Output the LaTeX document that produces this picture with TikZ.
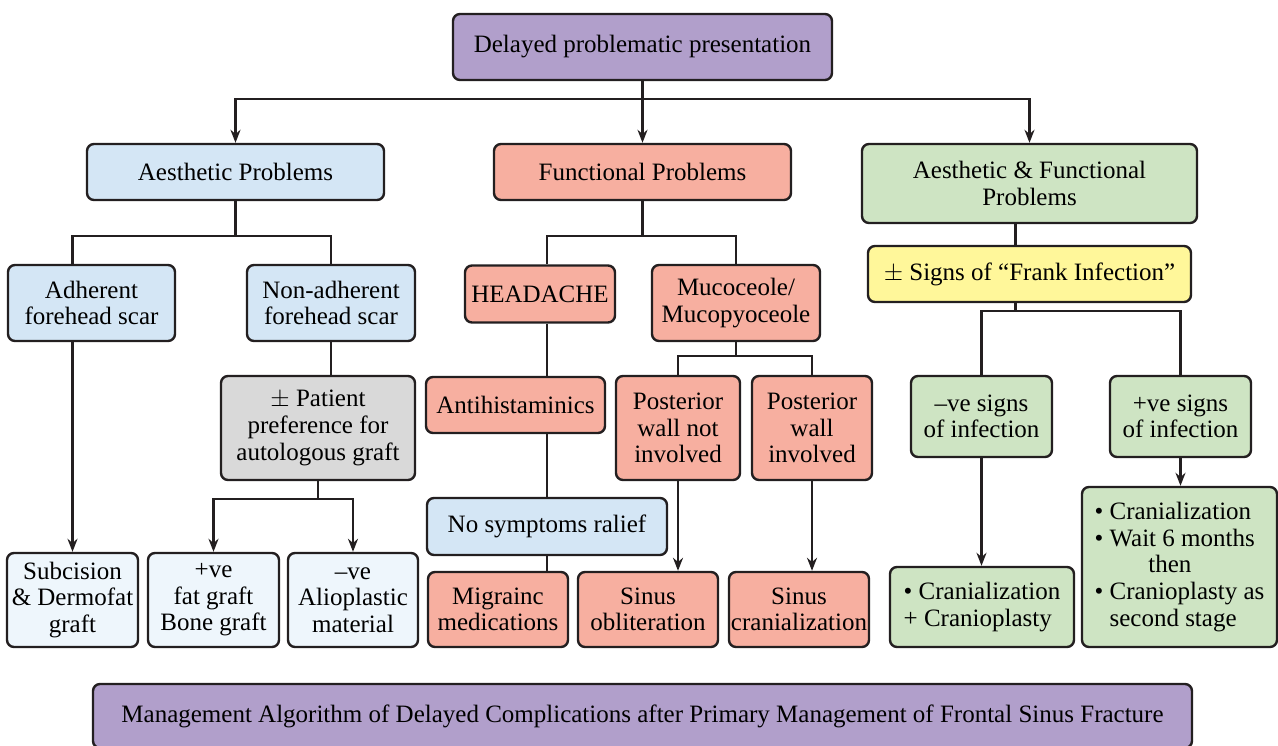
\documentclass[tikz,border=0pt]{standalone}
\usepackage{fontspec}
\setmainfont{Liberation Serif}
\usepackage{tikz}
\usetikzlibrary{arrows.meta}
\definecolor{cpurp}{HTML}{B19FCB}
\definecolor{cblue}{HTML}{D4E6F5}
\definecolor{cpale}{HTML}{EEF6FC}
\definecolor{csalm}{HTML}{F7AFA0}
\definecolor{cgreen}{HTML}{CEE4C3}
\definecolor{cyell}{HTML}{FFF79A}
\definecolor{cgrey}{HTML}{D9D9D9}
\definecolor{cline}{HTML}{231F20}
\tikzset{
  fbox/.style={draw=cline, rounded corners=7pt, align=center, inner sep=1pt,
               line width=2.4pt, font=\fontsize{25}{26.6}\selectfont},
  sz/.style 2 args={minimum width=#1pt, minimum height=#2pt},
  npurp/.style={fbox, fill=cpurp},
  nblue/.style={fbox, fill=cblue},
  npale/.style={fbox, fill=cpale},
  nsalm/.style={fbox, fill=csalm},
  ngreen/.style={fbox, fill=cgreen},
  nyell/.style={fbox, fill=cyell},
  ngrey/.style={fbox, fill=cgrey},
  link/.style={line width=2.2pt, draw=cline},
  flow/.style={link, -{Stealth[length=13pt, width=10pt]}},
}
\begin{document}
\begin{tikzpicture}[x=1pt, y=-1pt]
  \useasboundingbox (0,0) rectangle (1278,746);
  \node[npurp, sz={379}{66}] (top) at (642.5,47) {Delayed problematic presentation};
  \node[nblue, sz={297}{56}] (aes) at (235.5,172) {Aesthetic Problems};
  \node[nsalm, sz={297}{56}] (fun) at (642.5,172) {Functional Problems};
  \node[ngreen, sz={335}{79}] (afp) at (1029.5,183.5) {Aesthetic \& Functional\\Problems};
  \node[nblue, sz={167}{76}] (adh) at (91.5,303) {Adherent\\forehead scar};
  \node[nblue, sz={168}{76}] (nadh) at (331,303) {Non-adherent\\forehead scar};
  \node[ngrey, sz={194}{104}] (pref) at (318,428) {$\pm$ Patient\\preference for\\autologous graft};
  \node[npale, sz={131}{94}] (subc) at (72.5,600) {Subcision\\\& Dermofat\\graft};
  \node[npale, sz={131}{94}] (fatg) at (213.5,600) {+ve\\fat graft\\Bone graft};
  \node[npale, sz={130}{94}] (alio) at (353,600) {--ve\\Alioplastic\\material};
  \node[nsalm, sz={150}{57}] (head) at (540,294) {HEADACHE};
  \node[nsalm, sz={168}{76}] (muco) at (736,303) {Mucoceole/\\Mucopyoceole};
  \node[nsalm, sz={179}{56}] (anti) at (515.5,405) {Antihistaminics};
  \node[nblue, sz={240}{57}] (sym) at (547,526.5) {No symptoms ralief};
  \node[nsalm, sz={140}{75}] (mig) at (498,609.5) {Migrainc\\medications};
  \node[nsalm, sz={124}{104}] (pwn) at (678,428) {Posterior\\wall not\\involved};
  \node[nsalm, sz={120}{104}] (pwi) at (812,428) {Posterior\\wall\\involved};
  \node[nsalm, sz={140}{75}] (obl) at (648,609.5) {Sinus\\obliteration};
  \node[nsalm, sz={140}{75}] (cran) at (799,609.5) {Sinus\\cranialization};
  \node[nyell, sz={323}{56}] (frank) at (1029.5,274) {$\pm$ Signs of ``Frank Infection''};
  \node[ngreen, sz={141}{81}] (nsig) at (981.5,416.5) {--ve signs\\of infection};
  \node[ngreen, sz={141}{81}] (psig) at (1180.5,416.5) {+ve signs\\of infection};
  \node[ngreen, sz={184}{80}, align=left] (ccp) at (982,607) {• Cranialization\\+ Cranioplasty};
  \node[ngreen, sz={195}{160}, align=left] (wait) at (1179.5,567)
    {• Cranialization\\• Wait 6 months\\\hspace*{2.15em}then\\• Cranioplasty as\\\hphantom{•}~second stage};
  \node[npurp, sz={1099}{64}] (title) at (642.5,716)
    {Management Algorithm of Delayed Complications after Primary Management of Frontal Sinus Fracture};
  \draw[flow] (top.south) -- ++(0,18) -| (aes.north);
  \draw[flow] (top.south) -- (fun.north);
  \draw[flow] (top.south) -- ++(0,18) -| (afp.north);
  \draw[link] (aes.south) -- ++(0,35) -| (adh.north -| subc.north);
  \draw[link] (aes.south) -- ++(0,35) -| (nadh.north);
  \draw[flow] (adh.south -| subc.north) -- (subc.north);
  \draw[link] (nadh.south) -- (nadh.south |- pref.north);
  \draw[flow] (pref.south) -- ++(0,18) -| (fatg.north);
  \draw[flow] (pref.south) -- ++(0,18) -| (alio.north);
  \draw[link] (fun.south) -- ++(0,35) -| (head.north -| sym.north);
  \draw[link] (fun.south) -- ++(0,35) -| (muco.north);
  \draw[link] (head.south -| sym.north) -- (anti.north -| sym.north);
  \draw[link] (anti.south -| sym.north) -- (sym.north);
  \draw[link] (sym.south) -- (sym.south |- mig.north);
  \draw[link] (muco.south) -- ++(0,14) -| (pwn.north);
  \draw[link] (muco.south) -- ++(0,14) -| (pwi.north);
  \draw[flow] (pwn.south) -- (pwn.south |- obl.north);
  \draw[flow] (pwi.south) -- (pwi.south |- cran.north);
  \draw[link] ([xshift=-14pt]afp.south) -- ([xshift=-14pt]frank.north);
  \draw[link] ([xshift=-14pt]frank.south) -- ++(0,8) -| (nsig.north);
  \draw[link] ([xshift=-14pt]frank.south) -- ++(0,8) -| (psig.north);
  \draw[flow] (nsig.south) -- (nsig.south |- ccp.north);
  \draw[flow] (psig.south) -- (psig.south |- wait.north);
\end{tikzpicture}
\end{document}
